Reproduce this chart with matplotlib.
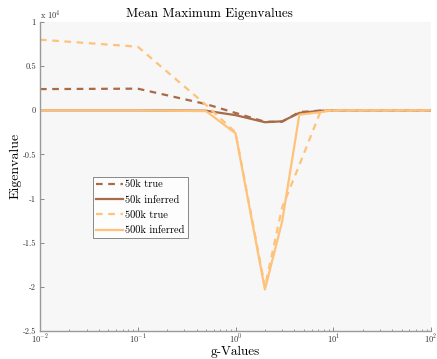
import matplotlib
matplotlib.use("Agg")
import matplotlib.pyplot as plt
from matplotlib.ticker import FuncFormatter, LogLocator, NullFormatter

plt.rcParams['font.family'] = ['cmr10', 'DejaVu Serif']
plt.rcParams['mathtext.fontset'] = 'cm'
plt.rcParams['axes.unicode_minus'] = False
plt.rcParams['axes.formatter.use_mathtext'] = True

g_values = [0.01, 0.1, 0.5, 1, 2, 3, 4.5, 7.5, 10, 100]
true_50k = [2400, 2450, 700, -300, -1300, -1300, -200, -30, 0, 0]
inferred_50k = [0, 0, -50, -550, -1350, -1250, -300, -50, 0, 0]
true_500k = [8000, 7200, 600, -2500, -20000, -11000, -6200, 0, 0, 0]
inferred_500k = [0, 0, -100, -2600, -20300, -12600, -500, -200, 0, 0]
y_ticks = [10000, 5000, 0, -5000, -10000, -15000, -20000, -25000]

brown = '#A86B48'
light = '#FFC27A'

fig = plt.figure(figsize=(4.37, 3.59), dpi=100)
ax = fig.add_axes([40/437, 1 - 331/359, 391/437, 309/359])
ax.set_facecolor('#F7F7F7')

ax.plot(g_values, true_50k, color=brown, lw=1.6, ls=(0, (3, 2.5)), label='50k true')
ax.plot(g_values, inferred_50k, color=brown, lw=1.6, label='50k inferred')
ax.plot(g_values, true_500k, color=light, lw=1.6, ls=(0, (3, 2.5)), label='500k true')
ax.plot(g_values, inferred_500k, color=light, lw=1.6, label='500k inferred')

ax.set_xscale('log')
ax.set_xlim(0.01, 100)
ax.set_ylim(-25000, 10000)
ax.set_yticks(y_ticks)

def yfmt(v, pos):
    return '%g' % (v / 1e4)
ax.yaxis.set_major_formatter(FuncFormatter(yfmt))
ax.xaxis.set_major_locator(LogLocator(base=10, numticks=10))
ax.xaxis.set_minor_locator(LogLocator(base=10, subs=range(2, 10), numticks=20))
ax.xaxis.set_minor_formatter(NullFormatter())

for side in ['top', 'right']:
    ax.spines[side].set_visible(False)
for side in ['left', 'bottom']:
    ax.spines[side].set_color('#9a9a9a')
    ax.spines[side].set_linewidth(1.0)

ax.tick_params(axis='both', which='major', direction='in', length=3, width=0.6,
               color='#777777', labelsize=6, labelcolor='#333333', pad=3)
ax.tick_params(axis='x', which='major', pad=1.5)
ax.tick_params(axis='both', which='minor', direction='in', length=1.8, width=0.5,
               color='#777777')

fig.text(235/437, 1 - 352/359, 'g-Values', ha='center', va='center', fontsize=9.5)
fig.text(15/437, 1 - 166/359, 'Eigenvalue', ha='center', va='center', rotation=90, fontsize=10)
fig.text(209/437, 1 - 14/359, 'Mean Maximum Eigenvalues', ha='center', va='center', fontsize=9.5)
fig.text(40/437, 1 - 15/359, r'x 10$^4$', ha='left', va='center', fontsize=6, color='#333333')

leg = ax.legend(loc='lower left', bbox_to_anchor=(0.135, 0.30), fontsize=7.5,
                handlelength=2.6, handletextpad=0.2, borderpad=0.3, labelspacing=0.55,
                frameon=True, fancybox=False, borderaxespad=0)
leg.get_frame().set_edgecolor('#555555')
leg.get_frame().set_linewidth(0.6)
leg.get_frame().set_facecolor('white')

fig.savefig('out.png', dpi=100)
